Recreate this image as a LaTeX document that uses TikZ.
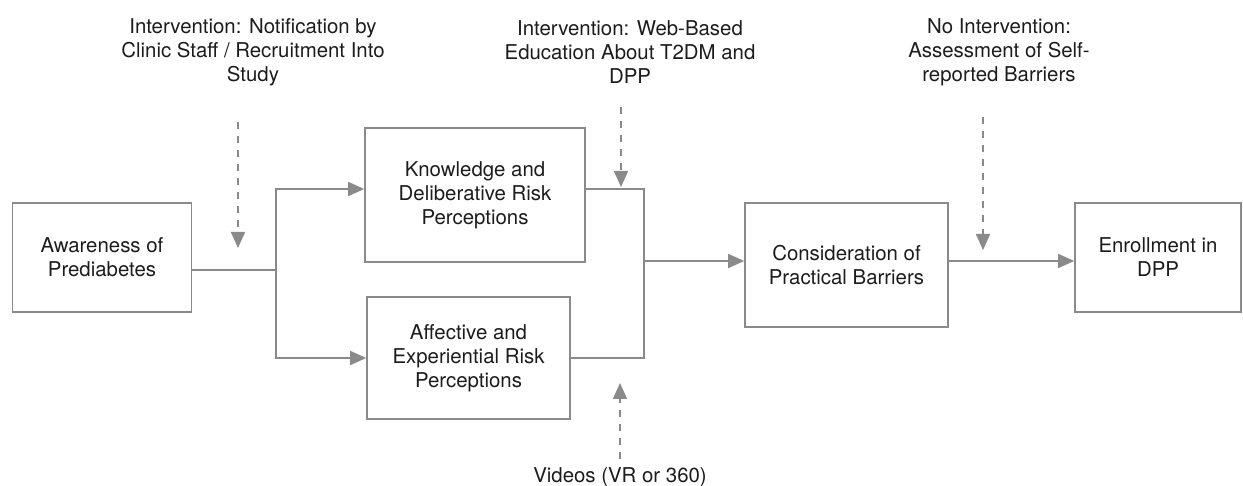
\documentclass[tikz,border=0pt]{standalone}
\usepackage{fontspec}
\setmainfont{TeX Gyre Heros}
\usetikzlibrary{arrows.meta}
\definecolor{linegray}{HTML}{8A8A8A}
\definecolor{textgray}{HTML}{1C1C1C}
\begin{document}
\begin{tikzpicture}[x=0.5pt, y=-0.5pt, every node/.style={font=\fontsize{10.2}{12}\selectfont, text=textgray, align=center}, box/.style={draw=linegray, line width=0.8pt, inner sep=0pt}, link/.style={draw=linegray, line width=0.8pt}, arr/.style={link, -{Triangle[length=8pt, width=7pt]}}, dasharr/.style={arr, dash pattern=on 3.5pt off 3.5pt}]
\useasboundingbox (0,0) rectangle (1243,486);
\node[box, minimum width=89.5pt, minimum height=54.5pt] (aware) at (102,257.5) {Awareness of \\ Prediabetes};
\node[box, minimum width=110pt, minimum height=67pt] (know) at (475,195) {Knowledge and \\ Deliberative Risk \\ Perceptions};
\node[box, minimum width=101.5pt, minimum height=61pt] (affect) at (468.5,358) {Affective and \\ Experiential Risk \\ Perceptions};
\node[box, minimum width=101.5pt, minimum height=62pt] (consid) at (846.5,265) {Consideration of \\ Practical Barriers};
\node[box, minimum width=83pt, minimum height=54.5pt] (enroll) at (1158,257.5) {Enrollment in \\ DPP};
\node (lab1) at (253,52) {Intervention: Notification by \\ Clinic Staff / Recruitment Into \\ Study};
\node (lab2) at (630,52) {Intervention: Web-Based \\ Education About T2DM and \\ DPP};
\node (lab3) at (999,52) {No Intervention: \\ Assessment of Self- \\ reported Barriers};
\node (lab4) at (620,477) {Videos (VR or 360)};
\coordinate (jl) at (276,270);
\coordinate (jr) at (644,261);
\draw[link] (jl -| aware.east) -- (jl);
\draw[arr] (jl) |- ([yshift=3pt]know.west);
\draw[arr] (jl) |- (affect.west);
\draw[link] ([yshift=3pt]know.east) -| (jr);
\draw[link] (affect.east) -| (jr);
\draw[arr] (jr) -- (jr -| consid.west);
\draw[arr] (consid.east |- jr) -- (enroll.west |- jr);
% dashed intervention arrows
\coordinate (d1s) at (238,122); \coordinate (d1e) at (238,248);
\coordinate (d2s) at (621,107); \coordinate (d2e) at (621,187);
\coordinate (d3s) at (983,117); \coordinate (d3e) at (983,250);
\coordinate (d4s) at (620,459); \coordinate (d4e) at (620,383);
\draw[dasharr] (d1s) -- (d1e);
\draw[dasharr] (d2s) -- (d2e);
\draw[dasharr] (d3s) -- (d3e);
\draw[dasharr] (d4s) -- (d4e);
\end{tikzpicture}
\end{document}
